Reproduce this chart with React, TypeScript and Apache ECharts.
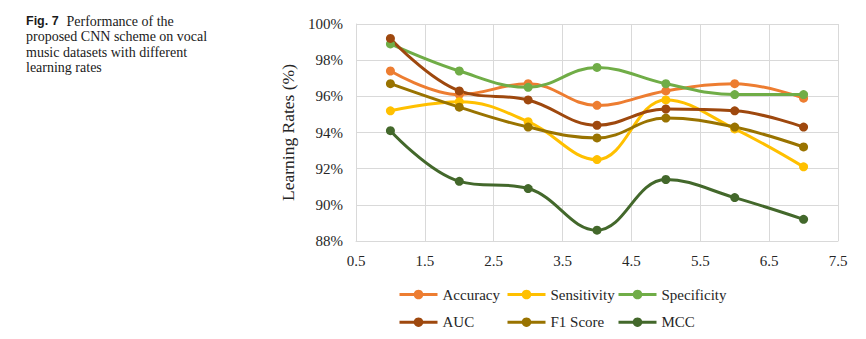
import React, { useEffect, useRef } from "react";
import * as echarts from "echarts";

const xValues = [1, 2, 3, 4, 5, 6, 7];
const xTickLabels = ["0.5", "1.5", "2.5", "3.5", "4.5", "5.5", "6.5", "7.5"];
const yTickMin = 88;
const yTickMax = 100;
const yTickStep = 2;

const accuracy = [97.4, 96.1, 96.7, 95.5, 96.3, 96.7, 95.9];
const sensitivity = [95.2, 95.7, 94.6, 92.5, 95.8, 94.2, 92.1];
const specificity = [98.9, 97.4, 96.5, 97.6, 96.7, 96.1, 96.1];
const auc = [99.2, 96.3, 95.8, 94.4, 95.3, 95.2, 94.3];
const f1Score = [96.7, 95.4, 94.3, 93.7, 94.8, 94.3, 93.2];
const mcc = [94.1, 91.3, 90.9, 88.6, 91.4, 90.4, 89.2];

const seriesNames = ["Accuracy", "Sensitivity", "Specificity", "AUC", "F1 Score", "MCC"];
const seriesValues = [accuracy, sensitivity, specificity, auc, f1Score, mcc];
const seriesColors = ["#ED7D31", "#FFC000", "#70AD47", "#9E480E", "#997300", "#43682B"];

const captionLines = [
  "proposed CNN scheme on vocal",
  "music datasets with different",
  "learning rates",
];

const SERIF = "'Liberation Serif', 'Times New Roman', serif";

export default function App() {
  const ref = useRef<HTMLDivElement>(null);
  useEffect(() => {
    if (!ref.current) return;
    const chart = echarts.init(ref.current, undefined, { renderer: "svg" });
    const legendTextStyle = { fontFamily: SERIF, fontSize: 15, color: "#262626", lineHeight: 15 };
    const legendCols = [
      { left: 398, names: [seriesNames[0], seriesNames[3]] },
      { left: 506, names: [seriesNames[1], seriesNames[4]] },
      { left: 617, names: [seriesNames[2], seriesNames[5]] },
    ];
    chart.setOption({
      animation: false,
      backgroundColor: "#ffffff",
      grid: { left: 356, right: 28, top: 24, bottom: 98, containLabel: false },
      xAxis: [
        {
          type: "value",
          min: 0,
          max: xTickLabels.length - 1,
          interval: 1,
          axisLine: { show: true, lineStyle: { color: "#d9d9d9", width: 1 } },
          axisTick: { show: false },
          splitLine: { show: true, lineStyle: { color: "#d9d9d9", width: 1 } },
          axisLabel: {
            margin: 12,
            fontFamily: SERIF,
            fontSize: 15,
            color: "#262626",
            formatter: (v: number) => xTickLabels[Math.round(v)] ?? "",
          },
        },
        {
          type: "value",
          min: 0.5,
          max: 7.5,
          show: false,
        },
      ],
      yAxis: {
        type: "value",
        min: yTickMin,
        max: yTickMax,
        interval: yTickStep,
        name: "Learning Rates (%)",
        nameLocation: "middle",
        nameRotate: 90,
        nameGap: 55,
        nameTextStyle: { fontFamily: SERIF, fontSize: 17.5, color: "#262626" },
        axisLine: { show: true, lineStyle: { color: "#d9d9d9", width: 1 } },
        axisTick: { show: false },
        splitLine: { show: true, lineStyle: { color: "#d9d9d9", width: 1 } },
        axisLabel: {
          margin: 13,
          fontFamily: SERIF,
          fontSize: 15,
          color: "#262626",
          formatter: "{value}%",
        },
      },
      legend: legendCols.map((c) => ({
        orient: "vertical",
        left: c.left,
        top: 287,
        itemWidth: 38,
        itemHeight: 12,
        itemGap: 12.7,
        padding: 0,
        data: c.names,
        lineStyle: { width: 3 },
        textStyle: legendTextStyle,
      })),
      series: seriesNames.map((name, i) => ({
        name,
        type: "line",
        xAxisIndex: 1,
        smooth: 0.4,
        symbol: "circle",
        symbolSize: 9,
        color: seriesColors[i],
        lineStyle: { width: 3, color: seriesColors[i] },
        itemStyle: { color: seriesColors[i] },
        data: xValues.map((x, j) => [x, seriesValues[i][j]]),
      })),
      graphic: [
        {
          type: "text",
          left: 26,
          top: 14,
          style: {
            text: "Fig. 7",
            fontFamily: "'Liberation Sans', Arial, sans-serif",
            fontWeight: "bold",
            fontSize: 12.5,
            fill: "#1a1a1a",
          },
        },
        {
          type: "text",
          left: 66.5,
          top: 14,
          style: {
            text: "Performance of the",
            fontFamily: SERIF,
            fontSize: 14,
            fill: "#1a1a1a",
          },
        },
        ...captionLines.map((t, k) => ({
          type: "text",
          left: 26,
          top: 14 + 15.6 * (k + 1),
          style: { text: t, fontFamily: SERIF, fontSize: 14, fill: "#1a1a1a" },
        })),
      ],
    });
    return () => chart.dispose();
  }, []);
  return (
    <div
      ref={ref}
      style={{ position: "fixed", left: 0, top: 0, width: 866, height: 339, background: "#fff" }}
    />
  );
}
